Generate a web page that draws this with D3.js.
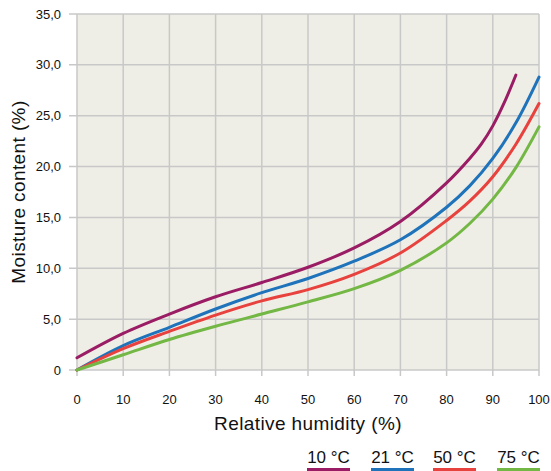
<!DOCTYPE html>
<html>
<head>
<meta charset="utf-8">
<script src="https://cdn.jsdelivr.net/npm/d3@7"></script>
<style>
  body { margin: 0; background: #fff; }
  text { font-family: "Liberation Sans", Arial, sans-serif; fill: #111; }
</style>
</head>
<body>
<div id="chart"></div>
<script>
// relative humidity (%) sample points and moisture content (%) per temperature
const series = ["10 °C", "21 °C", "50 °C", "75 °C"];
const colors = ["#9a1c64", "#1e73bb", "#e8423f", "#73b744"];
const rh10 = [0, 10, 20, 30, 40, 50, 60, 70, 80, 85, 87.5, 90, 92.5, 95];
const mc10 = [1.2, 3.6, 5.5, 7.2, 8.6, 10.1, 12.0, 14.6, 18.4, 20.8, 22.2, 24.0, 26.3, 29.0];
const rh = [0, 10, 20, 30, 40, 50, 60, 70, 80, 85, 90, 95, 100];
const mc21 = [0, 2.4, 4.2, 6.0, 7.6, 9.0, 10.7, 12.8, 16.0, 18.1, 20.8, 24.3, 28.8];
const mc50 = [0, 2.1, 3.8, 5.4, 6.8, 7.9, 9.4, 11.5, 14.7, 16.6, 19.0, 22.2, 26.2];
const mc75 = [0, 1.5, 3.0, 4.3, 5.5, 6.7, 8.0, 9.8, 12.5, 14.4, 16.8, 19.9, 23.9];
const xTicks = [0, 10, 20, 30, 40, 50, 60, 70, 80, 90, 100];
const yTicks = [0, 5, 10, 15, 20, 25, 30, 35];

const lines = [
  rh10.map((h, i) => [h, mc10[i]]),
  rh.map((h, i) => [h, mc21[i]]),
  rh.map((h, i) => [h, mc50[i]]),
  rh.map((h, i) => [h, mc75[i]])
];

const width = 551, height = 471;
const margin = { top: 14, right: 12, bottom: 101, left: 77 };
const iw = width - margin.left - margin.right;
const ih = height - margin.top - margin.bottom;

const svg = d3.select("#chart").append("svg")
  .attr("width", width)
  .attr("height", height);

const g = svg.append("g").attr("transform", `translate(${margin.left},${margin.top})`);

const x = d3.scaleLinear().domain([0, 100]).range([0, iw]);
const y = d3.scaleLinear().domain([0, 35]).range([ih, 0]);

// plot background
g.append("rect")
  .attr("width", iw).attr("height", ih)
  .attr("fill", "#efeee6");

const gridColor = "#c8c8c8";

// horizontal grid + left tick stubs
g.selectAll(".hgrid").data(yTicks).join("line")
  .attr("x1", -8).attr("x2", iw)
  .attr("y1", d => y(d)).attr("y2", d => y(d))
  .attr("stroke", gridColor).attr("stroke-width", 1.5);

// vertical grid + bottom tick stubs
g.selectAll(".vgrid").data(xTicks).join("line")
  .attr("x1", d => x(d)).attr("x2", d => x(d))
  .attr("y1", 0).attr("y2", ih + 6)
  .attr("stroke", gridColor).attr("stroke-width", 1.5);

// tick labels
const fmt = d => d === 0 ? "0" : d.toFixed(1).replace(".", ",");
g.selectAll(".ylab").data(yTicks).join("text")
  .attr("x", -16).attr("y", d => y(d))
  .attr("dy", "0.35em")
  .attr("text-anchor", "end")
  .attr("font-size", 13)
  .text(fmt);

g.selectAll(".xlab").data(xTicks).join("text")
  .attr("x", d => x(d)).attr("y", ih + 34)
  .attr("text-anchor", "middle")
  .attr("font-size", 13)
  .text(d => d);

// axis titles
svg.append("text")
  .attr("x", margin.left + iw / 2).attr("y", 430)
  .attr("text-anchor", "middle")
  .attr("font-size", 19)
  .attr("letter-spacing", 0.4)
  .text("Relative humidity (%)");

svg.append("text")
  .attr("transform", `translate(25,${margin.top + ih / 2}) rotate(-90)`)
  .attr("text-anchor", "middle")
  .attr("font-size", 19)
  .attr("letter-spacing", 0.4)
  .text("Moisture content (%)");

// curves
const line = d3.line()
  .x(d => x(d[0]))
  .y(d => y(d[1]))
  .curve(d3.curveCatmullRom.alpha(0.5));

g.selectAll(".curve").data(lines).join("path")
  .attr("d", line)
  .attr("fill", "none")
  .attr("stroke", (d, i) => colors[i])
  .attr("stroke-width", 3)
  .attr("stroke-linecap", "round");

// legend
const legX = [307, 371, 433, 497];
const leg = svg.selectAll(".leg").data(series).join("g")
  .attr("transform", (d, i) => `translate(${legX[i]},0)`);
leg.append("rect")
  .attr("x", 0).attr("y", 468).attr("width", 43).attr("height", 3)
  .attr("fill", (d, i) => colors[i]);
leg.append("text")
  .attr("x", 21.5).attr("y", 463)
  .attr("text-anchor", "middle")
  .attr("font-size", 17)
  .text(d => d);
</script>
</body>
</html>
